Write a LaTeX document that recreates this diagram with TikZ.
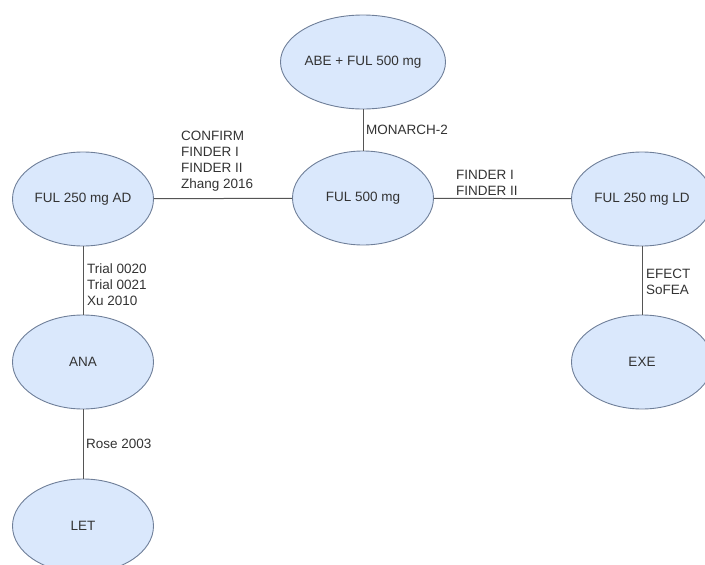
\documentclass[tikz,border=0pt]{standalone}
\usepackage{fontspec}
\setmainfont{Liberation Sans}
\usetikzlibrary{shapes.geometric}
\definecolor{armfill}{HTML}{DAE8FC}
\definecolor{armline}{HTML}{6F7F99}
\definecolor{edgeline}{HTML}{555555}
\definecolor{txt}{HTML}{333333}
\begin{document}
\begin{tikzpicture}[x=1pt,y=-1pt]
\tikzstyle{arm}=[draw=armline,fill=armfill,shape=ellipse,minimum width=141pt,minimum height=94pt,inner sep=0pt,line width=0.9pt,text=txt,font=\fontsize{13.5}{16}\selectfont]
\tikzstyle{trial}=[anchor=north west,inner sep=0pt,align=left,text=txt,font=\fontsize{13.5}{16}\selectfont]
\tikzstyle{link}=[draw=edgeline,line width=1pt]
\useasboundingbox (0,0) rectangle (705,565);
\clip (0,0) rectangle (705,565);
% treatment arms
\node[arm] at (363,62) (abe) {ABE + FUL 500 mg};
\node[arm] at (363,198) (ful500) {FUL 500 mg};
\node[arm] at (83,199) (ad) {FUL 250 mg AD};
\node[arm] at (642,199) (ld) {FUL 250 mg LD};
\node[arm] at (83,362) (ana) {ANA};
\node[arm] at (642,362) (exe) {EXE};
\node[arm] at (83,526) (let) {LET};
% comparisons
\draw[link] (abe) -- (ful500);
\draw[link] (ad) -- (ful500);
\draw[link] (ful500) -- (ld);
\draw[link] (ad) -- (ana);
\draw[link] (ana) -- (let);
\draw[link] (ld) -- (exe);
% trials on each comparison
\node[trial] at (181,131) (t1) {CONFIRM\\FINDER I\\FINDER II\\Zhang 2016};
\node[trial] at (366,125) (t2) {MONARCH-2};
\node[trial] at (456,170) (t3) {FINDER I\\FINDER II};
\node[trial] at (87,264) (t4) {Trial 0020\\Trial 0021\\Xu 2010};
\node[trial] at (86,439) (t5) {Rose 2003};
\node[trial] at (646,269) (t6) {EFECT\\SoFEA};
\end{tikzpicture}
\end{document}
